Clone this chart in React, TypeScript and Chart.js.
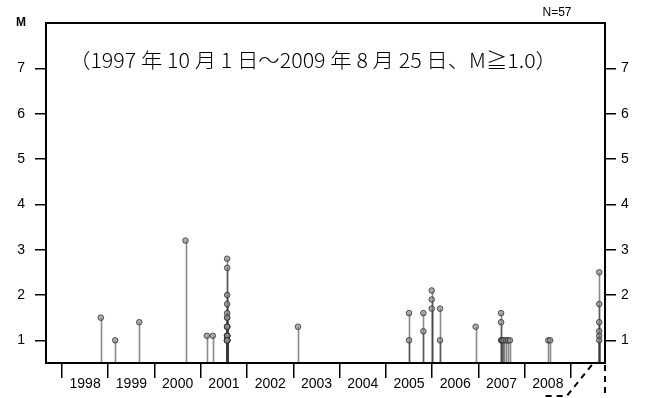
import { useEffect, useRef } from "react";
import { Chart, registerables } from "chart.js";

Chart.register(...registerables);

// ---- data (decimal year of each event, magnitude) ----
const eventYears = [
  1998.84, 1999.15, 1999.67, 2000.67, 2001.13, 2001.26,
  2001.57, 2001.57, 2001.57, 2001.57, 2001.57, 2001.57, 2001.57, 2001.57,
  2001.57, 2001.57, 2001.57, 2001.57, 2001.57, 2001.57, 2001.57, 2001.57,
  2001.57, 2001.57, 2001.57, 2001.57, 2001.57, 2001.57, 2001.57,
  2003.10,
  2005.50, 2005.50,
  2005.81, 2005.81,
  2005.99, 2005.99, 2005.99,
  2006.17, 2006.17,
  2006.94,
  2007.49, 2007.49, 2007.49, 2007.50, 2007.52, 2007.55, 2007.60, 2007.64, 2007.68,
  2008.51, 2008.55,
  2009.61, 2009.61, 2009.61, 2009.61, 2009.61, 2009.61,
];
const eventMags = [
  1.5, 1.0, 1.4, 3.2, 1.1, 1.1,
  2.8, 2.6, 2.0, 1.8, 1.6, 1.5, 1.5, 1.3,
  1.3, 1.3, 1.3, 1.1, 1.1, 1.1, 1.1, 1.1,
  1.0, 1.0, 1.0, 1.0, 1.0, 1.0, 1.0,
  1.3,
  1.6, 1.0,
  1.6, 1.2,
  2.1, 1.9, 1.7,
  1.7, 1.0,
  1.3,
  1.6, 1.4, 1.0, 1.0, 1.0, 1.0, 1.0, 1.0, 1.0,
  1.0, 1.0,
  2.5, 1.8, 1.4, 1.2, 1.1, 1.0,
];

const yTickValues = [1, 2, 3, 4, 5, 6, 7];
const yearTicks = [1998, 1999, 2000, 2001, 2002, 2003, 2004, 2005, 2006, 2007, 2008, 2009];
const yearLabels = ["1998", "1999", "2000", "2001", "2002", "2003", "2004", "2005", "2006", "2007", "2008"];

const titleText = "（1997 年 10 月 1 日～2009 年 8 月 25 日、M≧1.0）";
const countText = "N=57";
const magAxisText = "M";

const xMin = 1997.655;
const xMax = 2009.735;
const yMin = 0.5;
const yMax = 8;
const zoomStartYear = 2009.45;

const labelFont = { family: "'Liberation Sans', Arial, sans-serif", size: 14 };

const stemPlugin = {
  id: "stems",
  beforeDatasetsDraw(chart: any) {
    const { ctx, scales } = chart;
    const xs = scales.x;
    const ys = scales.y;
    const base = ys.getPixelForValue(yMin);
    ctx.save();
    ctx.strokeStyle = "rgba(60,60,60,0.6)";
    ctx.lineWidth = 1.6;
    for (let i = 0; i < eventYears.length; i++) {
      const px = Math.round(xs.getPixelForValue(eventYears[i])) + 0.5;
      const py = ys.getPixelForValue(eventMags[i]);
      ctx.beginPath();
      ctx.moveTo(px, base);
      ctx.lineTo(px, py);
      ctx.stroke();
    }
    ctx.restore();
  },
};

const decorPlugin = {
  id: "decor",
  afterDraw(chart: any) {
    const { ctx, chartArea, scales } = chart;
    const { left, right, top, bottom } = chartArea;
    ctx.save();
    // frame
    ctx.strokeStyle = "#000";
    ctx.lineWidth = 2;
    ctx.strokeRect(left, top, right - left, bottom - top);

    // dashed zoom connector
    ctx.setLineDash([6, 5]);
    ctx.lineWidth = 2;
    ctx.beginPath();
    ctx.moveTo(right, bottom + 2);
    ctx.lineTo(right, chart.height);
    ctx.stroke();
    const sx = scales.x.getPixelForValue(zoomStartYear);
    ctx.beginPath();
    ctx.moveTo(sx, bottom + 2);
    ctx.lineTo(sx - 25, bottom + 33);
    ctx.lineTo(sx - 47, bottom + 33);
    ctx.stroke();
    ctx.setLineDash([]);

    // title
    ctx.fillStyle = "#000";
    ctx.textBaseline = "middle";
    ctx.font = "300 20px 'Noto Sans CJK JP', sans-serif";
    const w = ctx.measureText(titleText).width;
    const targetW = 488;
    ctx.save();
    ctx.translate(left + 23, top + 37);
    ctx.scale(targetW / w, 1);
    ctx.textAlign = "left";
    ctx.fillText(titleText, 0, 0);
    ctx.restore();

    // M label
    ctx.font = "bold 12px 'Liberation Sans', Arial, sans-serif";
    ctx.textAlign = "center";
    ctx.fillText(magAxisText, left - 25, top);

    // N= label
    ctx.font = "12px 'Liberation Sans', Arial, sans-serif";
    ctx.textAlign = "center";
    ctx.fillText(countText, right - 48, top - 10);
    ctx.restore();
  },
};

export default function App() {
  const ref = useRef<HTMLCanvasElement | null>(null);

  useEffect(() => {
    if (!ref.current) return;
    const labelPositions = yearLabels.map((l) => Number(l) + 0.5);
    const chart = new Chart(ref.current, {
      type: "scatter",
      data: {
        datasets: [
          {
            data: eventYears.map((x, i) => ({ x, y: eventMags[i] })),
            pointRadius: 2.8,
            pointBackgroundColor: "rgba(140,140,140,0.7)",
            pointBorderColor: "rgba(40,40,40,0.75)",
            pointBorderWidth: 1,
            showLine: false,
          },
        ],
      },
      options: {
        responsive: false,
        devicePixelRatio: 1,
        animation: false,
        layout: { padding: { top: 23, left: 0, right: 0, bottom: 0 } },
        plugins: { legend: { display: false }, tooltip: { enabled: false }, title: { display: false } },
        scales: {
          x: {
            type: "linear",
            position: "bottom",
            min: xMin,
            max: xMax,
            afterFit: (s: any) => {
              s.height = 35;
            },
            afterBuildTicks: (s: any) => {
              const vals = [...yearTicks, ...labelPositions].sort((a, b) => a - b);
              s.ticks = vals.map((v) => ({ value: v }));
            },
            ticks: {
              autoSkip: false,
              maxRotation: 0,
              minRotation: 0,
              padding: -2,
              color: "#000",
              font: labelFont,
              callback: (v: any) => {
                const idx = labelPositions.indexOf(Number(v));
                return idx >= 0 ? yearLabels[idx] : "";
              },
            },
            grid: {
              drawOnChartArea: false,
              drawTicks: true,
              tickLength: 15,
              lineWidth: 1.5,
              tickColor: (c: any) =>
                c.tick && yearTicks.indexOf(c.tick.value) >= 0 ? "#000" : "rgba(0,0,0,0)",
            },
            border: { display: false },
          },
          y: {
            type: "linear",
            position: "left",
            min: yMin,
            max: yMax,
            afterFit: (s: any) => {
              s.width = 46;
            },
            afterBuildTicks: (s: any) => {
              s.ticks = yTickValues.map((v) => ({ value: v }));
            },
            ticks: { padding: 10, color: "#000", font: labelFont },
            grid: { drawOnChartArea: false, tickLength: 11, lineWidth: 1.5, tickColor: "#000" },
            border: { display: false },
          },
          y2: {
            type: "linear",
            position: "right",
            min: yMin,
            max: yMax,
            afterFit: (s: any) => {
              s.width = 44;
            },
            afterBuildTicks: (s: any) => {
              s.ticks = yTickValues.map((v) => ({ value: v }));
            },
            ticks: { padding: 5, color: "#000", font: labelFont },
            grid: { drawOnChartArea: false, tickLength: 11, lineWidth: 1.5, tickColor: "#000" },
            border: { display: false },
          },
        },
      },
      plugins: [stemPlugin, decorPlugin],
    });
    return () => chart.destroy();
  }, []);

  return (
    <div style={{ position: "fixed", left: 0, top: 0, width: 649, height: 398, background: "#fff" }}>
      <canvas ref={ref} width={649} height={398} style={{ display: "block" }} />
    </div>
  );
}
